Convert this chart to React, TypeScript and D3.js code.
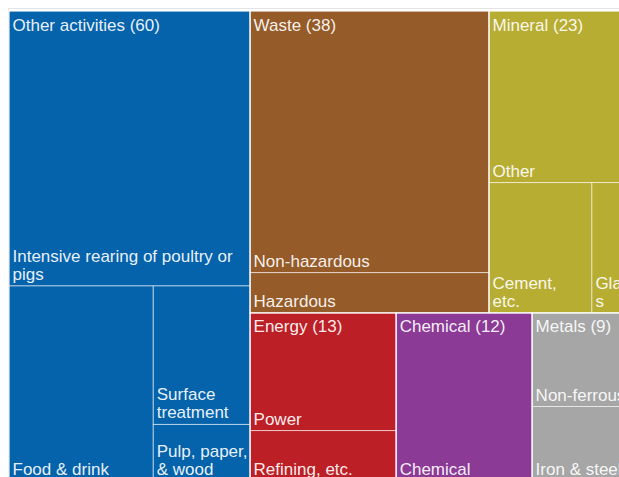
import React, { useMemo } from "react";
import * as d3 from "d3";

const groupNames = ["Other activities", "Waste", "Mineral", "Energy", "Chemical", "Metals"];
const groupColors = ["#0563ac", "#955b28", "#b8ad33", "#bd1f26", "#8b3a96", "#a6a6a6"];

const leafGroups = [
  "Other activities", "Other activities", "Other activities", "Other activities",
  "Waste", "Waste",
  "Mineral", "Mineral", "Mineral",
  "Energy", "Energy",
  "Chemical",
  "Metals", "Metals",
];
const leafNames = [
  "Intensive rearing of poultry or pigs", "Food & drink", "Surface treatment", "Pulp, paper,\n& wood",
  "Non-hazardous", "Hazardous",
  "Other", "Cement,\netc.", "Glass",
  "Power", "Refining, etc.",
  "Chemical",
  "Non-ferrous", "Iron & steel",
];
const leafValues = [35.1, 14.9, 7.1, 2.9, 33.1, 5.1, 12.9, 7.1, 2.7, 9.1, 3.9, 12.1, 4.9, 3.9];

const FONT_SIZE = 17;
const FONT = "'Liberation Sans', Arial, sans-serif";

let ctx: CanvasRenderingContext2D | null = null;
function measure(t: string) {
  if (!ctx) {
    ctx = document.createElement("canvas").getContext("2d");
    if (ctx) ctx.font = `${FONT_SIZE}px ${FONT}`;
  }
  return ctx ? ctx.measureText(t).width : t.length * FONT_SIZE * 0.5;
}

function wrap(text: string, maxW: number): string[] {
  const out: string[] = [];
  for (const para of text.split("\n")) {
    const words = para.split(" ");
    let cur = "";
    for (const w of words) {
      const t = cur ? cur + " " + w : w;
      if (measure(t) <= maxW) {
        cur = t;
        continue;
      }
      if (cur) out.push(cur);
      let word = w;
      while (measure(word) > maxW && word.length > 1) {
        let k = word.length - 1;
        while (k > 1 && measure(word.slice(0, k)) > maxW) k--;
        out.push(word.slice(0, k));
        word = word.slice(k);
      }
      cur = word;
    }
    if (cur) out.push(cur);
  }
  return out;
}

export default function App() {
  const W = 619;
  const H = 477;
  const ox = 9;
  const oy = 11;
  const TW = 622;
  const TH = 470;

  const root = useMemo(() => {
    const data = {
      name: "root",
      children: groupNames.map((g) => ({
        name: g,
        children: leafNames
          .map((n, i) => ({ name: n, value: leafValues[i], group: leafGroups[i] }))
          .filter((d) => d.group === g),
      })),
    };
    const h = d3
      .hierarchy<any>(data)
      .sum((d: any) => d.value || 0)
      .sort((a, b) => (b.value || 0) - (a.value || 0));
    d3.treemap<any>().tile(d3.treemapSquarify.ratio(1.04)).size([TW, TH]).round(false)(h);
    return h as d3.HierarchyRectangularNode<any>;
  }, []);

  const color = d3.scaleOrdinal<string, string>().domain(groupNames).range(groupColors);
  const groups = root.children || [];
  const leaves = root.leaves();

  return (
    <svg
      width={W}
      height={H}
      style={{ position: "fixed", left: 0, top: 0, overflow: "hidden", background: "#fff" }}
      fontFamily={FONT}
      fontSize={FONT_SIZE}
    >
      <rect x={8.5} y={8.5} width={W} height={H} fill="none" stroke="#e4e4e4" strokeWidth={1} />
      <g transform={`translate(${ox},${oy})`}>
        {leaves.map((d, i) => (
          <rect
            key={"r" + i}
            x={d.x0}
            y={d.y0}
            width={d.x1 - d.x0}
            height={d.y1 - d.y0}
            fill={color(d.parent!.data.name)}
            stroke="rgba(255,255,255,0.55)"
            strokeWidth={1}
          />
        ))}
        {groups.map((g, i) => (
          <rect
            key={"g" + i}
            x={g.x0}
            y={g.y0}
            width={g.x1 - g.x0}
            height={g.y1 - g.y0}
            fill="none"
            stroke="rgba(255,255,255,0.8)"
            strokeWidth={1}
          />
        ))}
        {leaves.map((d, i) => {
          const lines = wrap(d.data.name, d.x1 - d.x0 - 4);
          const lh = 18.4;
          const baseY = d.y1 - 6 - (lines.length - 1) * lh;
          return (
            <text key={"l" + i} fill="#fff" fillOpacity={0.93}>
              {lines.map((ln, j) => (
                <tspan key={j} x={d.x0 + 3.5} y={baseY + j * lh}>
                  {ln}
                </tspan>
              ))}
            </text>
          );
        })}
        {groups.map((g, i) => (
          <text key={"t" + i} x={g.x0 + 3.5} y={g.y0 + 19.5} fill="#fff" fillOpacity={0.93}>
            {`${g.data.name} (${Math.round(g.value || 0)})`}
          </text>
        ))}
      </g>
    </svg>
  );
}
